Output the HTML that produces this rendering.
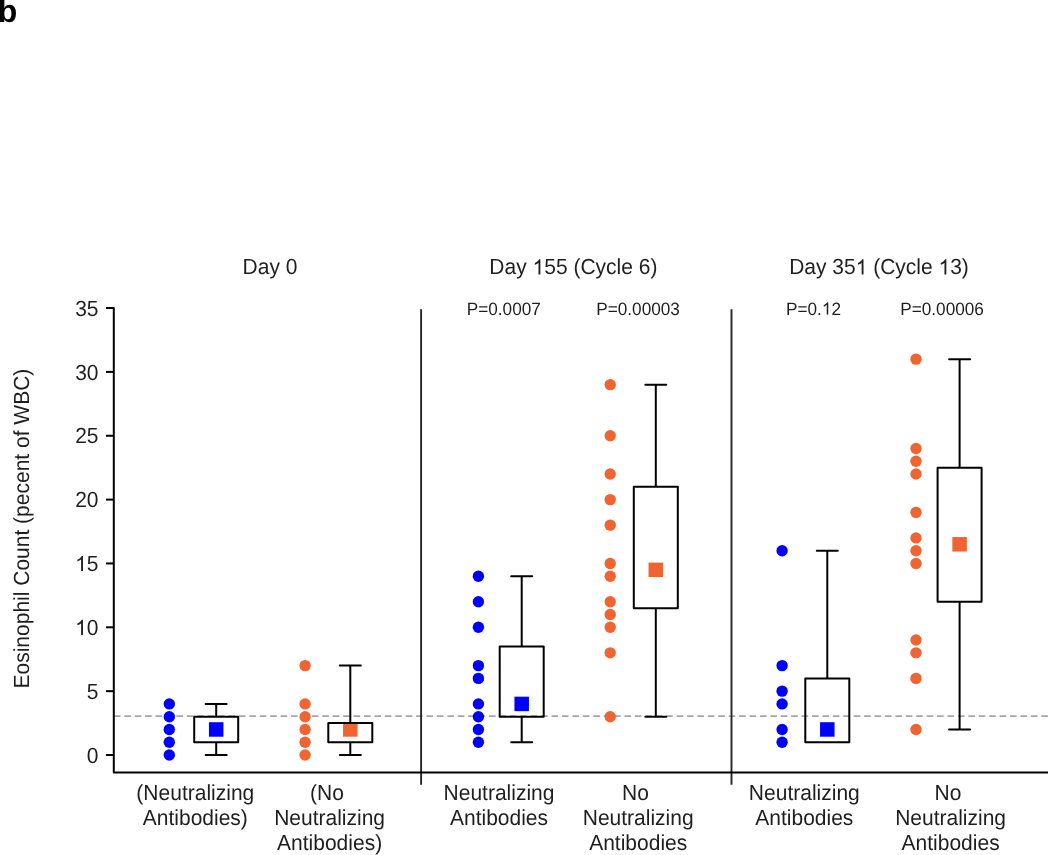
<!DOCTYPE html>
<html><head><meta charset="utf-8"><style>
html,body{margin:0;padding:0;background:#fff;}
body{width:1050px;height:855px;overflow:hidden;position:relative;}
svg{position:absolute;left:0;top:0;display:block;will-change:transform;}
text{font-family:"Liberation Sans", sans-serif;fill:#1e1e1e;text-rendering:geometricPrecision;}
</style></head><body>
<svg width="1050" height="855" viewBox="0 0 1050 855">
<line x1="113.9" y1="716.1" x2="1050" y2="716.1" stroke="#a6a6a6" stroke-width="1.7" stroke-dasharray="6.6 3.82"/>
<line x1="421.1" y1="309.2" x2="421.1" y2="784.8" stroke="#262626" stroke-width="1.9"/>
<line x1="731.5" y1="309.2" x2="731.5" y2="784.8" stroke="#262626" stroke-width="1.9"/>
<path d="M106 308.05H113.8V772.4H1048" fill="none" stroke="#000" stroke-width="2" stroke-linejoin="round"/>
<line x1="106" y1="755.00" x2="114" y2="755.00" stroke="#000" stroke-width="2"/>
<line x1="106" y1="691.15" x2="114" y2="691.15" stroke="#000" stroke-width="2"/>
<line x1="106" y1="627.30" x2="114" y2="627.30" stroke="#000" stroke-width="2"/>
<line x1="106" y1="563.45" x2="114" y2="563.45" stroke="#000" stroke-width="2"/>
<line x1="106" y1="499.60" x2="114" y2="499.60" stroke="#000" stroke-width="2"/>
<line x1="106" y1="435.75" x2="114" y2="435.75" stroke="#000" stroke-width="2"/>
<line x1="106" y1="371.90" x2="114" y2="371.90" stroke="#000" stroke-width="2"/>
<circle cx="169.3" cy="755.00" r="5.7" fill="#0000ff"/>
<circle cx="169.3" cy="742.23" r="5.7" fill="#0000ff"/>
<circle cx="169.3" cy="729.46" r="5.7" fill="#0000ff"/>
<circle cx="169.3" cy="716.69" r="5.7" fill="#0000ff"/>
<circle cx="169.3" cy="703.92" r="5.7" fill="#0000ff"/>
<rect x="208.95" y="722.21" width="14.5" height="14.5" fill="#0000ff"/>
<line x1="216.2" y1="703.92" x2="216.2" y2="716.69" stroke="#000" stroke-width="2.0"/>
<line x1="205.70" y1="703.92" x2="226.70" y2="703.92" stroke="#000" stroke-width="2.0" stroke-linecap="round"/>
<line x1="216.2" y1="742.23" x2="216.2" y2="755.00" stroke="#000" stroke-width="2.0"/>
<line x1="205.70" y1="755.00" x2="226.70" y2="755.00" stroke="#000" stroke-width="2.0" stroke-linecap="round"/>
<rect x="194.20" y="716.69" width="44.0" height="25.54" fill="none" stroke="#000" stroke-width="2.0" stroke-linejoin="round"/>
<circle cx="305.1" cy="755.00" r="5.7" fill="#ef6431"/>
<circle cx="305.1" cy="742.23" r="5.7" fill="#ef6431"/>
<circle cx="305.1" cy="729.46" r="5.7" fill="#ef6431"/>
<circle cx="305.1" cy="716.69" r="5.7" fill="#ef6431"/>
<circle cx="305.1" cy="703.92" r="5.7" fill="#ef6431"/>
<circle cx="305.1" cy="665.61" r="5.7" fill="#ef6431"/>
<rect x="343.05" y="722.21" width="14.5" height="14.5" fill="#ef6431"/>
<line x1="350.3" y1="665.61" x2="350.3" y2="723.08" stroke="#000" stroke-width="2.0"/>
<line x1="339.80" y1="665.61" x2="360.80" y2="665.61" stroke="#000" stroke-width="2.0" stroke-linecap="round"/>
<line x1="350.3" y1="742.23" x2="350.3" y2="755.00" stroke="#000" stroke-width="2.0"/>
<line x1="339.80" y1="755.00" x2="360.80" y2="755.00" stroke="#000" stroke-width="2.0" stroke-linecap="round"/>
<rect x="328.30" y="723.08" width="44.0" height="19.15" fill="none" stroke="#000" stroke-width="2.0" stroke-linejoin="round"/>
<circle cx="478.4" cy="576.22" r="5.7" fill="#0000ff"/>
<circle cx="478.4" cy="601.76" r="5.7" fill="#0000ff"/>
<circle cx="478.4" cy="627.30" r="5.7" fill="#0000ff"/>
<circle cx="478.4" cy="665.61" r="5.7" fill="#0000ff"/>
<circle cx="478.4" cy="678.38" r="5.7" fill="#0000ff"/>
<circle cx="478.4" cy="703.92" r="5.7" fill="#0000ff"/>
<circle cx="478.4" cy="716.69" r="5.7" fill="#0000ff"/>
<circle cx="478.4" cy="729.46" r="5.7" fill="#0000ff"/>
<circle cx="478.4" cy="742.23" r="5.7" fill="#0000ff"/>
<rect x="514.45" y="696.67" width="14.5" height="14.5" fill="#0000ff"/>
<line x1="521.7" y1="576.22" x2="521.7" y2="646.46" stroke="#000" stroke-width="2.0"/>
<line x1="511.20" y1="576.22" x2="532.20" y2="576.22" stroke="#000" stroke-width="2.0" stroke-linecap="round"/>
<line x1="521.7" y1="716.69" x2="521.7" y2="742.23" stroke="#000" stroke-width="2.0"/>
<line x1="511.20" y1="742.23" x2="532.20" y2="742.23" stroke="#000" stroke-width="2.0" stroke-linecap="round"/>
<rect x="499.70" y="646.46" width="44.0" height="70.24" fill="none" stroke="#000" stroke-width="2.0" stroke-linejoin="round"/>
<circle cx="610.2" cy="384.67" r="5.7" fill="#ef6431"/>
<circle cx="610.2" cy="435.75" r="5.7" fill="#ef6431"/>
<circle cx="610.2" cy="474.06" r="5.7" fill="#ef6431"/>
<circle cx="610.2" cy="499.60" r="5.7" fill="#ef6431"/>
<circle cx="610.2" cy="525.14" r="5.7" fill="#ef6431"/>
<circle cx="610.2" cy="563.45" r="5.7" fill="#ef6431"/>
<circle cx="610.2" cy="576.22" r="5.7" fill="#ef6431"/>
<circle cx="610.2" cy="601.76" r="5.7" fill="#ef6431"/>
<circle cx="610.2" cy="614.53" r="5.7" fill="#ef6431"/>
<circle cx="610.2" cy="627.30" r="5.7" fill="#ef6431"/>
<circle cx="610.2" cy="652.84" r="5.7" fill="#ef6431"/>
<circle cx="610.2" cy="716.69" r="5.7" fill="#ef6431"/>
<rect x="648.55" y="562.59" width="14.5" height="14.5" fill="#ef6431"/>
<line x1="655.8" y1="384.67" x2="655.8" y2="486.83" stroke="#000" stroke-width="2.0"/>
<line x1="645.30" y1="384.67" x2="666.30" y2="384.67" stroke="#000" stroke-width="2.0" stroke-linecap="round"/>
<line x1="655.8" y1="608.14" x2="655.8" y2="716.69" stroke="#000" stroke-width="2.0"/>
<line x1="645.30" y1="716.69" x2="666.30" y2="716.69" stroke="#000" stroke-width="2.0" stroke-linecap="round"/>
<rect x="633.80" y="486.83" width="44.0" height="121.31" fill="none" stroke="#000" stroke-width="2.0" stroke-linejoin="round"/>
<circle cx="782.1" cy="550.68" r="5.7" fill="#0000ff"/>
<circle cx="782.1" cy="665.61" r="5.7" fill="#0000ff"/>
<circle cx="782.1" cy="691.15" r="5.7" fill="#0000ff"/>
<circle cx="782.1" cy="703.92" r="5.7" fill="#0000ff"/>
<circle cx="782.1" cy="729.46" r="5.7" fill="#0000ff"/>
<circle cx="782.1" cy="742.23" r="5.7" fill="#0000ff"/>
<rect x="820.05" y="722.21" width="14.5" height="14.5" fill="#0000ff"/>
<line x1="827.3" y1="550.68" x2="827.3" y2="678.38" stroke="#000" stroke-width="2.0"/>
<line x1="816.80" y1="550.68" x2="837.80" y2="550.68" stroke="#000" stroke-width="2.0" stroke-linecap="round"/>
<rect x="805.30" y="678.38" width="44.0" height="63.85" fill="none" stroke="#000" stroke-width="2.0" stroke-linejoin="round"/>
<circle cx="916.0" cy="359.13" r="5.7" fill="#ef6431"/>
<circle cx="916.0" cy="448.52" r="5.7" fill="#ef6431"/>
<circle cx="916.0" cy="461.29" r="5.7" fill="#ef6431"/>
<circle cx="916.0" cy="474.06" r="5.7" fill="#ef6431"/>
<circle cx="916.0" cy="512.37" r="5.7" fill="#ef6431"/>
<circle cx="916.0" cy="537.91" r="5.7" fill="#ef6431"/>
<circle cx="916.0" cy="550.68" r="5.7" fill="#ef6431"/>
<circle cx="916.0" cy="563.45" r="5.7" fill="#ef6431"/>
<circle cx="916.0" cy="640.07" r="5.7" fill="#ef6431"/>
<circle cx="916.0" cy="652.84" r="5.7" fill="#ef6431"/>
<circle cx="916.0" cy="678.38" r="5.7" fill="#ef6431"/>
<circle cx="916.0" cy="729.46" r="5.7" fill="#ef6431"/>
<rect x="952.35" y="537.05" width="14.5" height="14.5" fill="#ef6431"/>
<line x1="959.6" y1="359.13" x2="959.6" y2="467.68" stroke="#000" stroke-width="2.0"/>
<line x1="949.10" y1="359.13" x2="970.10" y2="359.13" stroke="#000" stroke-width="2.0" stroke-linecap="round"/>
<line x1="959.6" y1="601.76" x2="959.6" y2="729.46" stroke="#000" stroke-width="2.0"/>
<line x1="949.10" y1="729.46" x2="970.10" y2="729.46" stroke="#000" stroke-width="2.0" stroke-linecap="round"/>
<rect x="937.60" y="467.68" width="44.0" height="134.08" fill="none" stroke="#000" stroke-width="2.0" stroke-linejoin="round"/>
<text transform="translate(98.5,762.6) scale(1,1.04)" text-anchor="end" font-size="21">0</text>
<text transform="translate(98.5,698.75) scale(1,1.04)" text-anchor="end" font-size="21">5</text>
<text transform="translate(98.5,634.9) scale(1,1.04)" text-anchor="end" font-size="21"> 0</text>
<path transform="translate(75.14,634.90) scale(0.010254,-0.010254)" d="M763 0H583V1147Q518 1085 412.5 1023Q307 961 223 930V1104Q374 1175 487 1276Q600 1377 647 1472H763Z" fill="#1e1e1e"/>
<text transform="translate(98.5,571.0500000000001) scale(1,1.04)" text-anchor="end" font-size="21"> 5</text>
<path transform="translate(75.14,571.05) scale(0.010254,-0.010254)" d="M763 0H583V1147Q518 1085 412.5 1023Q307 961 223 930V1104Q374 1175 487 1276Q600 1377 647 1472H763Z" fill="#1e1e1e"/>
<text transform="translate(98.5,507.20000000000005) scale(1,1.04)" text-anchor="end" font-size="21">20</text>
<text transform="translate(98.5,443.35) scale(1,1.04)" text-anchor="end" font-size="21">25</text>
<text transform="translate(98.5,379.50000000000006) scale(1,1.04)" text-anchor="end" font-size="21">30</text>
<text transform="translate(98.5,315.65000000000003) scale(1,1.04)" text-anchor="end" font-size="21">35</text>
<text transform="translate(270.0,274.4) scale(1,1.04)" text-anchor="middle" font-size="21">Day 0</text>
<text transform="translate(573.4,274.4) scale(1,1.04)" text-anchor="middle" font-size="21">Day  55 (Cycle 6)</text>
<path transform="translate(532.54,274.40) scale(0.010254,-0.010254)" d="M763 0H583V1147Q518 1085 412.5 1023Q307 961 223 930V1104Q374 1175 487 1276Q600 1377 647 1472H763Z" fill="#1e1e1e"/>
<text transform="translate(879.0,274.4) scale(1,1.04)" text-anchor="middle" font-size="21">Day 35  (Cycle  3)</text>
<path transform="translate(855.66,274.40) scale(0.010254,-0.010254)" d="M763 0H583V1147Q518 1085 412.5 1023Q307 961 223 930V1104Q374 1175 487 1276Q600 1377 647 1472H763Z" fill="#1e1e1e"/>
<path transform="translate(938.50,274.40) scale(0.010254,-0.010254)" d="M763 0H583V1147Q518 1085 412.5 1023Q307 961 223 930V1104Q374 1175 487 1276Q600 1377 647 1472H763Z" fill="#1e1e1e"/>
<text transform="translate(503.8,314.5) scale(1,1.04)" text-anchor="middle" font-size="17.2">P=0.0007</text>
<text transform="translate(638.05,314.5) scale(1,1.04)" text-anchor="middle" font-size="17.2">P=0.00003</text>
<text transform="translate(813.5,314.5) scale(1,1.04)" text-anchor="middle" font-size="17.2">P=0. 2</text>
<path transform="translate(821.85,314.50) scale(0.008398,-0.008398)" d="M763 0H583V1147Q518 1085 412.5 1023Q307 961 223 930V1104Q374 1175 487 1276Q600 1377 647 1472H763Z" fill="#1e1e1e"/>
<text transform="translate(942.05,314.5) scale(1,1.04)" text-anchor="middle" font-size="17.2">P=0.00006</text>
<text transform="translate(195.3,799.7) scale(1,1.04)" text-anchor="middle" font-size="21">(Neutralizing</text>
<text transform="translate(195.3,824.8) scale(1,1.04)" text-anchor="middle" font-size="21">Antibodies)</text>
<text transform="translate(326.9,799.7) scale(1,1.04)" text-anchor="middle" font-size="21">(No</text>
<text transform="translate(329.6,824.8) scale(1,1.04)" text-anchor="middle" font-size="21">Neutralizing</text>
<text transform="translate(329.6,849.9) scale(1,1.04)" text-anchor="middle" font-size="21">Antibodies)</text>
<text transform="translate(499.0,799.7) scale(1,1.04)" text-anchor="middle" font-size="21">Neutralizing</text>
<text transform="translate(499.0,824.8) scale(1,1.04)" text-anchor="middle" font-size="21">Antibodies</text>
<text transform="translate(635.5,799.7) scale(1,1.04)" text-anchor="middle" font-size="21">No</text>
<text transform="translate(638.2,824.8) scale(1,1.04)" text-anchor="middle" font-size="21">Neutralizing</text>
<text transform="translate(638.2,849.9) scale(1,1.04)" text-anchor="middle" font-size="21">Antibodies</text>
<text transform="translate(804.3,799.7) scale(1,1.04)" text-anchor="middle" font-size="21">Neutralizing</text>
<text transform="translate(804.3,824.8) scale(1,1.04)" text-anchor="middle" font-size="21">Antibodies</text>
<text transform="translate(947.9,799.7) scale(1,1.04)" text-anchor="middle" font-size="21">No</text>
<text transform="translate(950.6,824.8) scale(1,1.04)" text-anchor="middle" font-size="21">Neutralizing</text>
<text transform="translate(950.6,849.9) scale(1,1.04)" text-anchor="middle" font-size="21">Antibodies</text>
<text transform="translate(28.8,528.6) rotate(-90) scale(1,1.04)" x="0" y="0" text-anchor="middle" font-size="21">Eosinophil Count (pecent of WBC)</text>
<text x="-2.2" y="22.3" font-size="32" font-weight="bold" style="fill:#000">b</text>
</svg>
</body></html>
